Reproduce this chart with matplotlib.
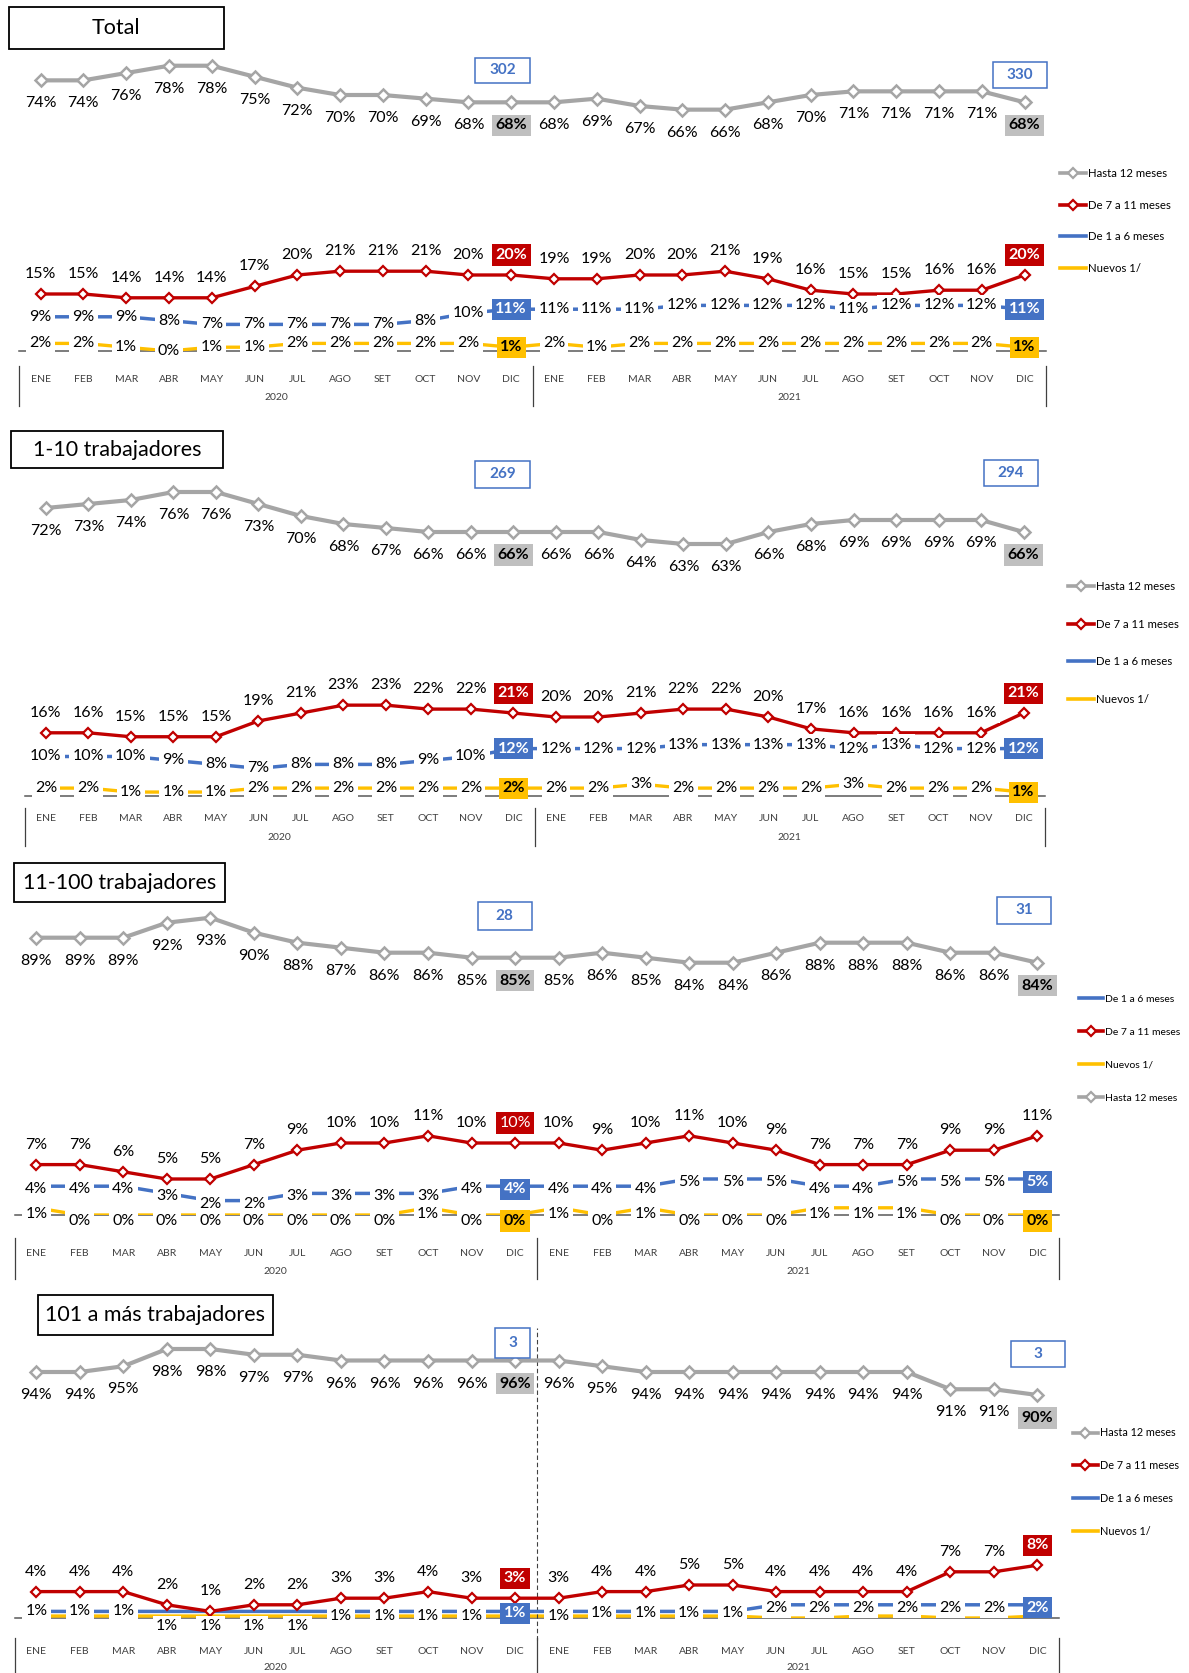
import matplotlib

matplotlib.use("Agg")
import matplotlib.pyplot as plt
from matplotlib.lines import Line2D
from matplotlib.patches import Rectangle

# --- datos -----------------------------------------------------------------
months = ["ENE", "FEB", "MAR", "ABR", "MAY", "JUN", "JUL", "AGO", "SET", "OCT", "NOV", "DIC"]
years = ["2020", "2021"]
series_names = {
    "hasta": "Hasta 12 meses",
    "de7": "De 7 a 11 meses",
    "de1": "De 1 a 6 meses",
    "nuevos": "Nuevos 1/",
}

total_hasta = [74, 74, 76, 78, 78, 75, 72, 70, 70, 69, 68, 68, 68, 69, 67, 66, 66, 68, 70, 71, 71, 71, 71, 68]
total_de7 = [15, 15, 14, 14, 14, 17, 20, 21, 21, 21, 20, 20, 19, 19, 20, 20, 21, 19, 16, 15, 15, 16, 16, 20]
total_de1 = [9, 9, 9, 8, 7, 7, 7, 7, 7, 8, 10, 11, 11, 11, 11, 12, 12, 12, 12, 11, 12, 12, 12, 11]
total_nuevos = [2, 2, 1, 0, 1, 1, 2, 2, 2, 2, 2, 1, 2, 1, 2, 2, 2, 2, 2, 2, 2, 2, 2, 1]
total_n = [302, 330]

t1_hasta = [72, 73, 74, 76, 76, 73, 70, 68, 67, 66, 66, 66, 66, 66, 64, 63, 63, 66, 68, 69, 69, 69, 69, 66]
t1_de7 = [16, 16, 15, 15, 15, 19, 21, 23, 23, 22, 22, 21, 20, 20, 21, 22, 22, 20, 17, 16, 16, 16, 16, 21]
t1_de1 = [10, 10, 10, 9, 8, 7, 8, 8, 8, 9, 10, 12, 12, 12, 12, 13, 13, 13, 13, 12, 13, 12, 12, 12]
t1_nuevos = [2, 2, 1, 1, 1, 2, 2, 2, 2, 2, 2, 2, 2, 2, 3, 2, 2, 2, 2, 3, 2, 2, 2, 1]
t1_n = [269, 294]

t11_hasta = [89, 89, 89, 92, 93, 90, 88, 87, 86, 86, 85, 85, 85, 86, 85, 84, 84, 86, 88, 88, 88, 86, 86, 84]
t11_de7 = [7, 7, 6, 5, 5, 7, 9, 10, 10, 11, 10, 10, 10, 9, 10, 11, 10, 9, 7, 7, 7, 9, 9, 11]
t11_de1 = [4, 4, 4, 3, 2, 2, 3, 3, 3, 3, 4, 4, 4, 4, 4, 5, 5, 5, 4, 4, 5, 5, 5, 5]
t11_nuevos = [1, 0, 0, 0, 0, 0, 0, 0, 0, 1, 0, 0, 1, 0, 1, 0, 0, 0, 1, 1, 1, 0, 0, 0]
t11_n = [28, 31]

t101_hasta = [94, 94, 95, 98, 98, 97, 97, 96, 96, 96, 96, 96, 96, 95, 94, 94, 94, 94, 94, 94, 94, 91, 91, 90]
t101_de7 = [4, 4, 4, 2, 1, 2, 2, 3, 3, 4, 3, 3, 3, 4, 4, 5, 5, 4, 4, 4, 4, 7, 7, 8]
t101_de1 = [1, 1, 1, 1, 1, 1, 1, 1, 1, 1, 1, 1, 1, 1, 1, 1, 1, 2, 2, 2, 2, 2, 2, 2]
t101_nuevos = [0.3, 0.3, 0.3, 0.3, 0.3, 0.3, 0.3, 0.3, 0.3, 0.3, 0.3, 0.3,
               0.3, 0.3, 0.3, 0.3, 0.3, 0, 0, 0.3, 0.3, 0, 0, 0.3]
t101_n = [3, 3]

# --- estilo ----------------------------------------------------------------
W, H, DPI = 1189, 1673, 100
PT = 72 / DPI
GREY, RED, BLUE, YELLOW = "#A5A5A5", "#C00000", "#4472C4", "#FFC000"
BOX_FC = {"hasta": "#BFBFBF", "de7": RED, "de1": BLUE, "nuevos": YELLOW}
BOX_TC = {"hasta": "black", "de7": "white", "de1": "white", "nuevos": "black"}
LABEL_DY = {"hasta": -23, "de7": 20, "de1": 0, "nuevos": 0}
FULL_BOXES = {k: {11: "bold", 23: "bold"} for k in series_names}

plt.rcParams["font.family"] = ["Lato", "DejaVu Sans"]

PANELS = [
    dict(title="Total", data=(total_hasta, total_de7, total_de1, total_nuevos), counts=total_n,
         x_edges=(19.2, 1046), top=40, p0=351, s=3.8, g0=351.2, gs=3.66,
         title_box=(8.5, 7, 224, 49),
         count_boxes=[(475, 57.5, 530, 83), (992.6, 62, 1047, 87.5)],
         month_y=379, year_y=398, sep=(366, 406),
         legend=(1060, 175, 34.3, 8.2), order=["hasta", "de7", "de1", "nuevos"],
         boxes=FULL_BOXES, dy={}),
    dict(title="1-10 trabajadores", data=(t1_hasta, t1_de7, t1_de1, t1_nuevos), counts=t1_n,
         x_edges=(24.6, 1044.8), top=440, p0=796, s=3.95, g0=796, gs=4.0,
         title_box=(10.5, 431, 223, 468),
         count_boxes=[(475, 461, 530, 488), (984, 460, 1038, 486)],
         month_y=818.6, year_y=838, sep=(808, 846),
         legend=(1068, 588, 40.2, 8.2), order=["hasta", "de7", "de1", "nuevos"],
         boxes=FULL_BOXES, dy={}),
    dict(title="11-100 trabajadores", data=(t11_hasta, t11_de7, t11_de1, t11_nuevos), counts=t11_n,
         x_edges=(14.5, 1059.2), top=870, p0=1215, s=7.2, g0=1382.7, gs=5.0,
         title_box=(14, 863.5, 225, 902.5),
         count_boxes=[(478, 902, 531.5, 930), (997, 896.5, 1051, 924)],
         month_y=1254, year_y=1272, sep=(1238, 1279),
         legend=(1079, 1001, 36.1, 7.5), order=["de1", "de7", "nuevos", "hasta"],
         boxes={"hasta": {11: "bold", 23: "bold"}, "de7": {11: "regular"},
                "de1": {11: "bold", 23: "bold"}, "nuevos": {11: "bold", 23: "bold"}},
         dy={"de1": -3, "nuevos": -6}),
    dict(title="101 a más trabajadores", data=(t101_hasta, t101_de7, t101_de1, t101_nuevos), counts=t101_n,
         x_edges=(14.5, 1059.2), top=1300, p0=1618, s=6.6, g0=1912.5, gs=5.75,
         title_box=(38.4, 1294.5, 272.5, 1335),
         count_boxes=[(495, 1328, 530, 1358), (1011, 1340.5, 1065, 1367)],
         month_y=1652, year_y=1668, sep=(1638, 1673),
         legend=(1073, 1434, 34.7, 7.8), order=["hasta", "de7", "de1", "nuevos"],
         boxes={"hasta": {11: "bold", 23: "bold"}, "de7": {11: "bold", 23: "bold"},
                "de1": {11: "bold", 23: "bold"}},
         dy={"de1": [0, 0, 0, -15, -15, -15, -15, -5, -5, -5, -5, -2,
                     -5, -2, -2, -2, -2, -3, -3, -3, -3, -3, -3, -3]},
         no_labels=["nuevos"], divider_top=1328),
]

fig = plt.figure(figsize=(W / DPI, H / DPI), dpi=DPI)


def fbox(x0, y0, x1, y1):
    """Rectángulo en píxeles (origen arriba a la izquierda) -> fracción de figura."""
    return (x0 / W, 1 - y1 / H), (x1 - x0) / W, (y1 - y0) / H


def handle(name):
    if name == "hasta":
        return Line2D([], [], color=GREY, lw=2.6, marker="D", ms=5, mfc="white", mec=GREY, mew=1.6)
    if name == "de7":
        return Line2D([], [], color=RED, lw=2.6, marker="D", ms=5, mfc="white", mec=RED, mew=1.6)
    return Line2D([], [], color=BLUE if name == "de1" else YELLOW, lw=2.6)


for p in PANELS:
    left, right = p["x_edges"]
    top, p0 = p["top"], p["p0"]
    span = p0 - top
    ax = fig.add_axes([left / W, 1 - p0 / H, (right - left) / W, span / H])
    ax.set_xlim(-0.5, 23.5)
    ax.set_ylim(0, span / p["s"])
    ax2 = ax.twinx()
    ax2.set_ylim((p["g0"] - p0) / p["gs"], (p["g0"] - top) / p["gs"])
    for a in (ax, ax2):
        a.set_yticks([])
        for sp in a.spines.values():
            sp.set_visible(False)

    hasta, de7, de1, nuevos = p["data"]
    x = range(24)
    ax.axhline(0, color="#595959", lw=1.1, zorder=1, clip_on=False)
    ax.plot(x, nuevos, color=YELLOW, lw=2.4, zorder=2, solid_capstyle="butt")
    ax.plot(x, de1, color=BLUE, lw=2.5, zorder=2.2, solid_capstyle="butt")
    ax.plot(x, de7, color=RED, lw=2.4, marker="D", ms=5.5, mfc="white", mec=RED, mew=1.6, zorder=2.5)
    ax2.plot(x, hasta, color=GREY, lw=3, marker="D", ms=6.5, mfc="white", mec=GREY, mew=1.8, zorder=2)

    # etiquetas de datos
    for name, vals, axis in (("hasta", hasta, ax2), ("de7", de7, ax), ("de1", de1, ax), ("nuevos", nuevos, ax)):
        if name in p.get("no_labels", []):
            continue
        dys = p["dy"].get(name, LABEL_DY[name])
        for i, v in enumerate(vals):
            dy = dys[i] if isinstance(dys, list) else dys
            style = p["boxes"].get(name, {}).get(i)
            if style:
                bbox = dict(boxstyle="square,pad=0.22", fc=BOX_FC[name], ec="none")
                color, weight = BOX_TC[name], ("bold" if style == "bold" else "normal")
            else:
                bbox = dict(boxstyle="square,pad=0.2", fc="white", ec="none")
                color, weight = "black", "normal"
            axis.annotate(f"{v:.0f}%", (i, v), xytext=(0, dy * PT), textcoords="offset points",
                          ha="center", va="center", fontsize=11.5, color=color, weight=weight,
                          bbox=bbox, zorder=4, annotation_clip=False)

    # eje de categorías de dos niveles
    ax.set_xticks(list(x))
    ax.set_xticklabels(months * 2, fontsize=7.5, color="#404040", va="center")
    ax.tick_params(axis="x", length=0, pad=(p["month_y"] - p0) * PT)
    for k, yr in enumerate(years):
        ax.annotate(yr, (5.5 + 12 * k, 0), xycoords=("data", "axes fraction"),
                    xytext=(0, -(p["year_y"] - p0) * PT), textcoords="offset points",
                    ha="center", va="center", fontsize=7.5, color="#404040")
    s0, s1 = p["sep"]
    for xv in (-0.5, 11.5, 23.5):
        ax.axvline(xv, ymin=-(s1 - p0) / span, ymax=-(s0 - p0) / span,
                   color="#404040", lw=0.9, clip_on=False)
    if "divider_top" in p:
        ax.axvline(11.5, ymin=-(s0 + 2 - p0) / span, ymax=(p0 - p["divider_top"]) / span,
                   color="#404040", lw=0.8, dashes=(4, 2.5), clip_on=False)

    # leyenda
    lx, ly, lsp, lfs = p["legend"]
    fpx = lfs / PT
    fig.legend([handle(n) for n in p["order"]], [series_names[n] for n in p["order"]],
               loc="upper left", bbox_to_anchor=(lx / W, 1 - (ly - 0.6 * fpx) / H), frameon=False,
               fontsize=lfs, labelspacing=(lsp - 1.2 * fpx) / fpx, handlelength=2.3,
               handletextpad=0.15, borderpad=0, borderaxespad=0)

    # título
    xy, w, h = fbox(*p["title_box"])
    fig.add_artist(Rectangle(xy, w, h, transform=fig.transFigure, fc="white", ec="black", lw=1.3))
    tx0, ty0, tx1, ty1 = p["title_box"]
    fig.text((tx0 + tx1) / 2 / W, 1 - (ty0 + ty1) / 2 / H, p["title"], ha="center", va="center",
             fontsize=15.5, color="black")

    # número de observaciones
    for n, box in zip(p["counts"], p["count_boxes"]):
        xy, w, h = fbox(*box)
        fig.add_artist(Rectangle(xy, w, h, transform=fig.transFigure, fc="white", ec=BLUE, lw=1.1))
        fig.text((box[0] + box[2]) / 2 / W, 1 - (box[1] + box[3]) / 2 / H, str(n),
                 ha="center", va="center", fontsize=11, color=BLUE, weight="bold")

fig.savefig("out.png", dpi=DPI, facecolor="white")
